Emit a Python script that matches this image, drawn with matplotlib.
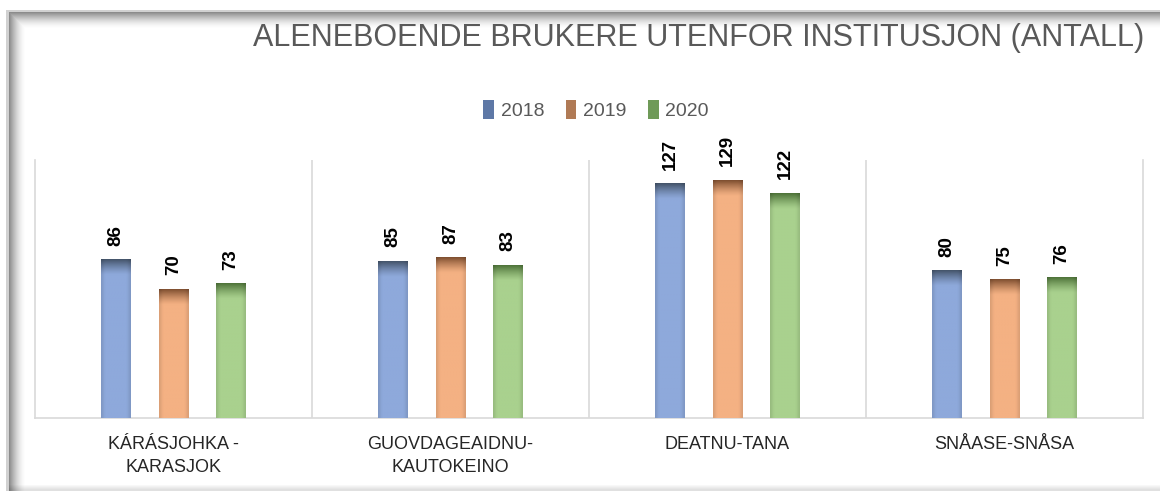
import numpy as np
import matplotlib
matplotlib.use("Agg")
import matplotlib.pyplot as plt
from matplotlib.patches import Patch
from matplotlib.colors import to_rgb

# ---- data ----
categories = ["KÁRÁSJOHKA -\nKARASJOK", "GUOVDAGEAIDNU-\nKAUTOKEINO", "DEATNU-TANA", "SNÅASE-SNÅSA"]
series_names = ["2018", "2019", "2020"]
values_2018 = [86, 85, 127, 80]
values_2019 = [70, 87, 129, 75]
values_2020 = [73, 83, 122, 76]
title = "ALENEBOENDE BRUKERE UTENFOR INSTITUSJON (ANTALL)"

series = [values_2018, values_2019, values_2020]
main_colors = ["#8EA9DB", "#F4B183", "#A9D18E"]
top_colors = ["#44546A", "#7F4F30", "#4E7339"]
legend_colors = ["#5E78A6", "#B07A55", "#6F9A58"]

W, H = 1160, 491
fig = plt.figure(figsize=(W / 100, H / 100), dpi=100)

# ---- outer frame with inner shadow (decoration, pixel-exact) ----
rows = np.arange(H)[:, None].astype(float)
cols = np.arange(W)[None, :].astype(float)
dl = cols - 9.0
dt = rows - 12.0
shade_l = np.clip(1 - dl / 16.0, 0, 1) * (dl >= 0)
shade_t = np.clip(1 - dt / 16.0, 0, 1) * (dt >= 0)
shade = np.maximum(shade_l * (rows >= 12), shade_t * (cols >= 9))
gray = 1 - 0.45 * shade ** 1.6
bot = np.clip((rows - 484) / 5.0, 0, 1) * (cols >= 6)
gray = gray * (1 - 0.12 * bot)
border = ((cols >= 6) & (cols < 9) & (rows >= 10)) | ((rows >= 10) & (rows < 12) & (cols >= 6))
gray = np.where(border, 0.82, gray)
gray = np.where((cols < 6) | (rows < 10), 1.0, gray)
img = np.repeat(gray[..., None], 3, axis=2)
fig.figimage(img, xo=0, yo=0, origin="upper", zorder=0)

# ---- main axes ----
left, right, top, bottom = 35, 1143, 160, 418
ax = fig.add_axes([left / W, 1 - bottom / H, (right - left) / W, (bottom - top) / H], zorder=1)
ax.set_facecolor("white")

x = np.arange(len(categories))
offsets = [-0.2075, 0.0, 0.2075]
bw = 0.105
band = 8.5

for si, vals in enumerate(series):
    mc = np.array(to_rgb(main_colors[si]))
    tc = np.array(to_rgb(top_colors[si]))
    for ci, v in enumerate(vals):
        x0 = x[ci] + offsets[si] - bw / 2
        x1 = x0 + bw
        n = 300
        yy = np.linspace(0, v, n)
        d = v - yy
        t = np.clip(1 - d / band, 0, 1) ** 1.3
        col = mc[None, :] * (1 - t[:, None]) + tc[None, :] * t[:, None]
        m = 20
        xx = np.linspace(-1, 1, m)
        edge = 1 - 0.10 * np.clip((np.abs(xx) - 0.75) / 0.25, 0, 1)
        arr = col[:, None, :] * edge[None, :, None]
        ax.imshow(arr, extent=(x0, x1, 0, v), origin="lower", aspect="auto",
                  interpolation="bilinear", zorder=3)
        ax.annotate(str(v), xy=(x[ci] + offsets[si], v), xytext=(0, 10),
                    textcoords="offset points", rotation=90, ha="center", va="bottom",
                    fontsize=13.5, fontweight="bold", color="black",
                    family=["Liberation Sans", "DejaVu Sans"], zorder=4)

ax.set_xlim(-0.5, len(categories) - 0.5)
ax.set_ylim(0, 140)
ax.set_yticks([])
ax.set_xticks(x)
ax.set_xticklabels(categories, fontsize=13, color="#262626",
                   family=["Liberation Sans", "DejaVu Sans"], linespacing=1.45)
ax.tick_params(axis="x", length=0, pad=13)
for xs in np.arange(0.5, len(categories) - 0.5, 1.0):
    ax.axvline(xs, color="#D9D9D9", lw=1.2, zorder=1)
for s in ["left", "right", "bottom"]:
    ax.spines[s].set_color("#D9D9D9")
    ax.spines[s].set_linewidth(1.2)
ax.spines["top"].set_visible(False)

# ---- title ----
fig.text(253 / W, 1 - 38 / H, title, ha="left", va="center", fontsize=22,
         color="#595959", family=["Liberation Sans", "DejaVu Sans"])

# ---- legend ----
handles = [Patch(facecolor=c, edgecolor="none") for c in legend_colors]
fig.legend(handles, series_names, loc="center", bbox_to_anchor=(596 / W, 1 - 110 / H),
           ncol=3, frameon=False, handlelength=0.55, handleheight=1.1,
           handletextpad=0.35, columnspacing=1.1,
           prop={"family": ["Liberation Sans", "DejaVu Sans"], "size": 14},
           labelcolor="#595959")

fig.savefig("out.png", dpi=100)
